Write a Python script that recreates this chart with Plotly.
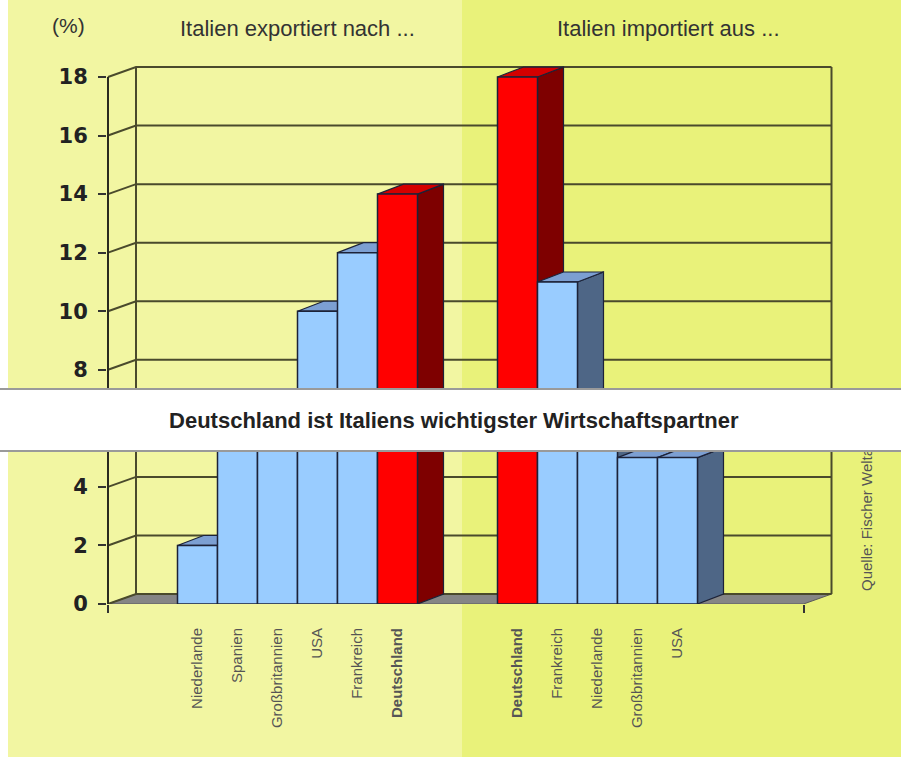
import plotly.graph_objects as go

# ---------------- data ----------------
export_categories = ["Niederlande", "Spanien", "Großbritannien", "USA", "Frankreich", "Deutschland"]
export_values = [2, 6.5, 7, 10, 12, 14]
import_categories = ["Deutschland", "Frankreich", "Niederlande", "Großbritannien", "USA"]
import_values = [18, 11, 6, 5, 5]
y_tick_values = [0, 2, 4, 6, 8, 10, 12, 14, 16, 18]
highlight = "Deutschland"

title_unit = "(%)"
title_export = "Italien exportiert nach ..."
title_import = "Italien importiert aus ..."
banner_text = "Deutschland ist Italiens wichtigster Wirtschaftspartner"
source_text = "Quelle: Fischer Weltalmanach"

# ---------------- geometry / style ----------------
W, H = 901, 757
ML, MR, MT, MB = 107, 0, 0, 153
PW, PH = W - ML - MR, H - MT - MB
IMPORT_OFFSET = 8            # slot of first import bar
X_RANGE = [-2.2625, 17.5875]
Y_RANGE = [0, 20.63]
AXIS_X0 = -2.2375            # front left corner of the floor / value axis
FLOOR_X1 = 15.15             # front right corner of the floor
WALL_DX, WALL_DY = 0.7, 0.34
BAR_W = 1.0
BAR_DX, BAR_DY = 0.65, 0.34
Y_TOP = max(y_tick_values)

BLUE = dict(front="#99ccff", top="#7c9fd2", side="#4e6686")
RED = dict(front="#ff0000", top="#d40000", side="#7e0000")
EDGE = "#1c2238"
GRID = "#4a4a2c"
FLOOR = "#858585"
FONT = "Liberation Sans, Arial, sans-serif"
TICKFONT = "DejaVu Sans, Verdana, sans-serif"


def px(x):
    return (x - ML) / PW


def py(y):
    return (H - MB - y) / PH


exp_x = list(range(len(export_values)))
imp_x = [IMPORT_OFFSET + i for i in range(len(import_values))]
all_x = exp_x + imp_x
all_v = export_values + import_values
all_c = export_categories + import_categories
palettes = [RED if c == highlight else BLUE for c in all_c]

fig = go.Figure()

# floor
fx = [AXIS_X0, FLOOR_X1, FLOOR_X1 + WALL_DX, AXIS_X0 + WALL_DX, AXIS_X0]
fy = [0, 0, WALL_DY, WALL_DY, 0]
fig.add_trace(go.Scatter(x=fx, y=fy, mode="lines", fill="toself", fillcolor=FLOOR,
                         line=dict(color="#5a5a5a", width=1), hoverinfo="skip"))

# back wall + side wall grid lines
gx, gy = [], []
for v in y_tick_values:
    gx += [AXIS_X0, AXIS_X0 + WALL_DX, FLOOR_X1 + WALL_DX, None]
    gy += [v, v + WALL_DY, v + WALL_DY, None]
for xv, dy in [(AXIS_X0 + WALL_DX, WALL_DY), (FLOOR_X1 + WALL_DX, WALL_DY)]:
    gx += [xv, xv, None]
    gy += [dy, Y_TOP + dy, None]
fig.add_trace(go.Scatter(x=gx, y=gy, mode="lines", line=dict(color=GRID, width=2),
                         hoverinfo="skip"))
# front value axis line
fig.add_trace(go.Scatter(x=[AXIS_X0, AXIS_X0], y=[0, Y_TOP], mode="lines",
                         line=dict(color="#2a2a20", width=2), hoverinfo="skip"))

# 3D side and top faces
for xc, v, pal in zip(all_x, all_v, palettes):
    xl, xr = xc - BAR_W / 2, xc + BAR_W / 2
    sx = [xr, xr + BAR_DX, xr + BAR_DX, xr, xr]
    sy = [0, BAR_DY, v + BAR_DY, v, 0]
    fig.add_trace(go.Scatter(x=sx, y=sy, mode="lines", fill="toself", fillcolor=pal["side"],
                             line=dict(color=EDGE, width=1.2), hoverinfo="skip"))
    tx = [xl, xr, xr + BAR_DX, xl + BAR_DX, xl]
    ty = [v, v, v + BAR_DY, v + BAR_DY, v]
    fig.add_trace(go.Scatter(x=tx, y=ty, mode="lines", fill="toself", fillcolor=pal["top"],
                             line=dict(color=EDGE, width=1.2), hoverinfo="skip"))

# front faces (overlay axes so they sit above all side/top faces)
fig.add_trace(go.Bar(x=all_x, y=all_v, width=BAR_W, xaxis="x2", yaxis="y2",
                     marker=dict(color=[p["front"] for p in palettes],
                                 line=dict(color=EDGE, width=1.5)),
                     hoverinfo="skip"))

ticktext = [f"<b>{c}</b>" if c == highlight else c for c in all_c]

fig.update_layout(
    width=W, height=H,
    margin=dict(l=ML, r=MR, t=MT, b=MB, pad=0),
    paper_bgcolor="white", plot_bgcolor="rgba(0,0,0,0)",
    showlegend=False,
    xaxis=dict(range=X_RANGE, showgrid=False, zeroline=False, showline=False,
               tickmode="array", tickvals=all_x, ticktext=ticktext, tickangle=-90,
               tickfont=dict(family=FONT, size=15, color="#555555"),
               ticks="", ticklabelstandoff=20, fixedrange=True,
               minor=dict(tickmode="array", tickvals=[AXIS_X0, FLOOR_X1], ticks="outside",
                          ticklen=8, tickcolor="#333333", tickwidth=1.5)),
    yaxis=dict(range=Y_RANGE, showgrid=False, zeroline=False, showline=False,
               tickmode="array", tickvals=y_tick_values,
               ticktext=[f"<b>{v}</b>" for v in y_tick_values],
               ticks="outside", ticklen=8, tickwidth=1.5, tickcolor="#333333",
               tickfont=dict(family=TICKFONT, size=21, color="#222222"),
               ticklabelstandoff=6, fixedrange=True),
    xaxis2=dict(range=X_RANGE, overlaying="x", anchor="y2", visible=False, fixedrange=True),
    yaxis2=dict(range=Y_RANGE, overlaying="y", anchor="x2", visible=False, fixedrange=True),
    shapes=[
        dict(type="rect", xref="paper", yref="paper", x0=px(8), x1=px(462), y0=py(H), y1=py(0),
             fillcolor="#f2f6a2", line=dict(width=0), layer="below"),
        dict(type="rect", xref="paper", yref="paper", x0=px(462), x1=px(W + 2), y0=py(H), y1=py(0),
             fillcolor="#e9f27a", line=dict(width=0), layer="below"),
    ],
    annotations=[
        dict(text=title_unit, xref="paper", yref="paper", x=px(68), y=py(25),
             xanchor="center", yanchor="middle", showarrow=False,
             font=dict(family=FONT, size=21, color="#333333")),
        dict(text=title_export, xref="paper", yref="paper", x=px(297), y=py(28),
             xanchor="center", yanchor="middle", showarrow=False,
             font=dict(family=FONT, size=22, color="#333333")),
        dict(text=title_import, xref="paper", yref="paper", x=px(668), y=py(28),
             xanchor="center", yanchor="middle", showarrow=False,
             font=dict(family=FONT, size=22, color="#333333")),
        dict(text=source_text, xref="paper", yref="paper", x=px(866), y=py(593),
             xanchor="center", yanchor="bottom", textangle=-90, showarrow=False,
             font=dict(family=FONT, size=15, color="#555555")),
        dict(text=f"<b>{banner_text}</b>", xref="paper", yref="paper", x=px(454), y=py(419.5),
             xanchor="center", yanchor="middle", width=930, height=60, borderpad=0,
             bgcolor="white", bordercolor="#9a9a9a", borderwidth=2, showarrow=False,
             font=dict(family=FONT, size=22, color="#222222")),
    ],
)

fig.write_html("out.html")
